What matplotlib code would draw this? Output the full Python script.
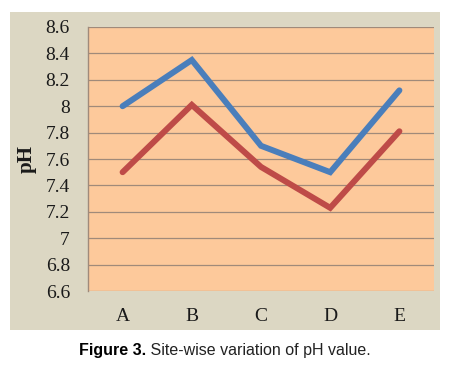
import matplotlib
matplotlib.use("Agg")
import matplotlib.pyplot as plt
from matplotlib.patches import Rectangle

sites = ["A", "B", "C", "D", "E"]
series_blue = [8.0, 8.35, 7.70, 7.50, 8.12]
series_red = [7.50, 8.01, 7.54, 7.23, 7.81]
yticks = [6.6, 6.8, 7.0, 7.2, 7.4, 7.6, 7.8, 8.0, 8.2, 8.4, 8.6]
ytick_labels = ["6.6", "6.8", "7", "7.2", "7.4", "7.6", "7.8", "8", "8.2", "8.4", "8.6"]

fig = plt.figure(figsize=(4.55, 3.75), dpi=100)
fig.patch.set_facecolor("white")

# beige chart panel
fig.patches.append(Rectangle((10/455, 1-330/375), 430/455, 318/375,
                             transform=fig.transFigure, facecolor="#dcd7c3",
                             edgecolor="none", zorder=-5))

ax = fig.add_axes([88/455, 1-291/375, 346/455, 264/375])
ax.set_zorder(2)
ax.set_facecolor("#fdc99b")
x = list(range(len(sites)))
ax.plot(x, series_blue, color="#4a7ebb", lw=4.3, solid_capstyle="round",
        solid_joinstyle="miter", zorder=3)
ax.plot(x, series_red, color="#be4b48", lw=4.3, solid_capstyle="round",
        solid_joinstyle="miter", zorder=3)

ax.set_xlim(-0.5, len(sites) - 0.5)
ax.set_ylim(6.6, 8.6)
ax.set_yticks(yticks)
ax.set_yticklabels(ytick_labels)
ax.set_xticks(x)
ax.set_xticklabels(sites)
ax.yaxis.grid(True, color="#a08a7a", lw=0.9)
ax.set_axisbelow(True)
for s in ["top", "right", "bottom"]:
    ax.spines[s].set_visible(False)
ax.spines["left"].set_color("#a08a7a")
ax.spines["left"].set_linewidth(1.0)
ax.tick_params(axis="both", length=0, labelsize=14, labelcolor="#1a1a1a")
ax.tick_params(axis="y", pad=13)
ax.tick_params(axis="x", pad=12)
for lab in ax.get_xticklabels() + ax.get_yticklabels():
    lab.set_fontfamily("Liberation Serif")

ax.set_ylabel("pH", fontfamily="Liberation Serif", fontweight="bold",
              fontsize=15, color="#1a1a1a")
ax.yaxis.set_label_coords(-0.148, 0.5)

t1 = fig.text(79/455, 1-355/375, "Figure 3.", fontfamily="Liberation Sans",
              fontweight="bold", fontsize=11.5, color="black", va="baseline")
fig.canvas.draw()
ax.annotate(" Site-wise variation of pH value.", xy=(1, 0), xycoords=t1,
            fontfamily="Liberation Sans", fontsize=11.5, color="#222222",
            va="bottom", ha="left", annotation_clip=False)

fig.savefig("out.png", dpi=100, facecolor="white")
